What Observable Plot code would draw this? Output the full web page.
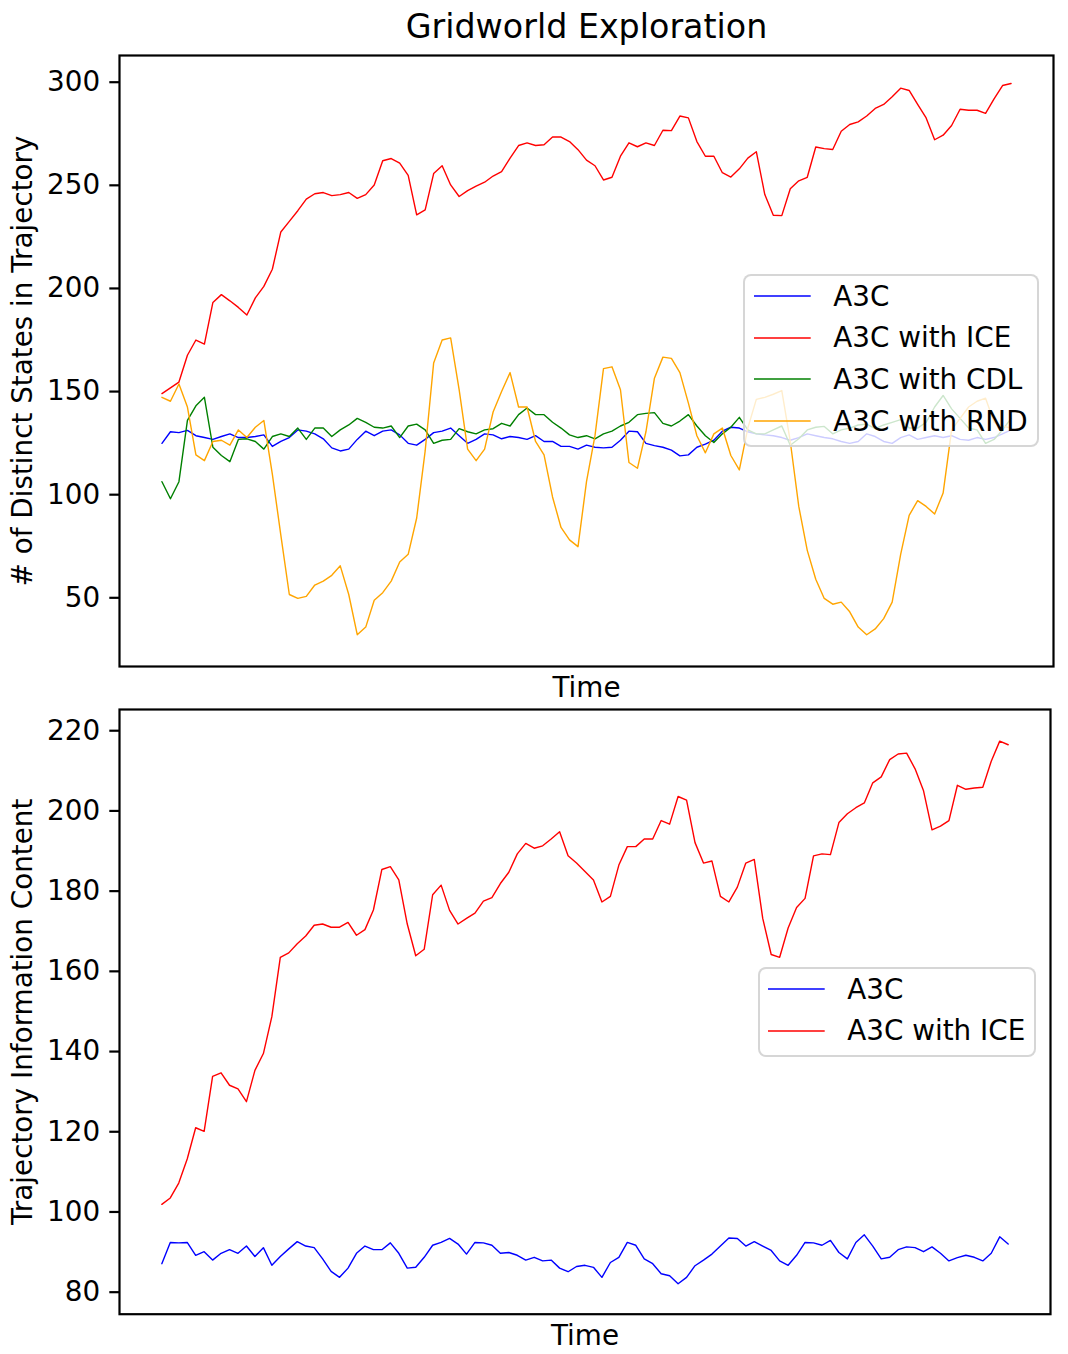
<!DOCTYPE html>
<html><head><meta charset="utf-8">
<script src="https://cdn.jsdelivr.net/npm/d3@7"></script>
<script src="https://cdn.jsdelivr.net/npm/@observablehq/plot@0.6"></script>
<style>
html,body{margin:0;padding:0;background:#fff;}
#wrap{position:relative;width:1068px;height:1354px;font-family:"DejaVu Sans",sans-serif;color:#000;overflow:hidden;background:#fff;}
#wrap svg.panel{position:absolute;left:0;}
.legend{position:absolute;box-sizing:border-box;border:2.8px solid rgba(204,204,204,0.8);border-radius:8px;background:rgba(255,255,255,0.8);}
.lg-line{position:absolute;overflow:visible;}
.lg-text{position:absolute;font-size:27.8px;line-height:27.8px;white-space:nowrap;font-family:"DejaVu Sans",sans-serif;}
</style></head><body><div id="wrap"></div><script>
// ---- data (time steps of 10, 0..1000) ----
const timeStep = 10;
const chartTitle = "Gridworld Exploration";
const xLabel = "Time";
const topYLabel = "# of Distinct States in Trajectory";
const bottomYLabel = "Trajectory Information Content";
const topTicks = [50, 100, 150, 200, 250, 300];
const bottomTicks = [80, 100, 120, 140, 160, 180, 200, 220];
const topSeries = ["A3C", "A3C with ICE", "A3C with CDL", "A3C with RND"];
const bottomSeries = ["A3C", "A3C with ICE"];
const seriesColors = {"A3C": "#0000ff", "A3C with ICE": "#ff0000", "A3C with CDL": "#008000", "A3C with RND": "#ffa500"};

const topA3C = [124.9,130.5,130.1,131.2,128.6,127.7,126.8,128.2,129.5,127.7,127.7,128.2,129,123.4,125.8,127.7,131.4,130.8,129.5,127.1,122.7,121.2,122.1,126.8,130.8,128.6,130.8,131.4,129,124.9,124,126.8,130.1,130.8,132.3,
128.6,124.9,126.8,129.5,129,127.1,128.2,127.7,126.8,128.6,125.8,125.8,123.4,123.4,122.1,124,123,122.7,123,126.4,130.8,130.5,124.9,123.8,123,121.6,118.8,119.3,123,124.5,126.4,130.8,132.7,132.3,
130.5,129.5,129,128.6,127.7,126.4,127.7,129.5,128.6,127.7,127.1,125.8,124.9,125.8,129.5,128.2,125.8,124.9,127.7,129,126.8,127.7,128.6,127.7,128.6,126.8,126.4,127.7,126.8,127.7,129.5,131.4];
const topICE = [149,151.8,154.6,167.6,175,173,193.2,197,194,190.8,187.1,195.4,201,209.3,227.4,232.5,237.7,243.3,245.9,246.5,245,245.5,246.5,243.7,245.5,250.2,261.9,263,260.8,254.8,235.7,238.1,255.7,259.5,250.2,
244.6,247.4,249.6,251.5,254.5,256.7,263.2,269.3,270.6,269.3,269.7,273.4,273.4,271.2,267.3,262.2,259.5,252.6,253.9,264.1,270.6,268.7,270.6,269.3,276.7,276.5,283.6,282.7,271.2,264.1,264.1,256.1,254,258,
263.2,266.3,245.5,235.5,235.3,248.3,252.2,253.9,268.6,267.8,267.4,276.2,279.5,280.8,283.6,287.3,289.2,292.9,297.1,296,289.2,282.7,272.1,274.3,279,286.9,286.4,286.4,284.9,291.9,298.4,299.4];
const topCDL = [106.3,98,106.3,136,143.1,147.2,123,119,116,126.8,127.1,125.8,122.1,128.2,129.5,128.2,132.3,126.8,132.3,132.3,128.2,131.4,133.8,137,135.1,132.7,132.3,133.3,127.7,133.3,134.2,131.4,124.9,126.4,126.8,
132,130.5,129.5,131.4,132,134.6,133.3,138.8,142,138.8,138.8,135.1,132.3,129,127.7,128.6,127.1,129.5,130.8,133.3,135.1,138.8,139.4,139.8,134.6,133.3,135.7,138.8,133.3,128.6,125.3,129.5,132.7,137.5,
131.4,129.5,129.5,131.4,133.3,124,127.1,131.4,132.7,133.1,129.5,131.4,132.3,133.8,134.2,132,133.8,135.1,136.4,132.3,132.3,135.1,142.5,148.1,141.6,137,132.3,131.4,124.9,126.8,131.4,137];
const topRND = [147.2,145.3,153.7,142.5,119.3,116.5,125.8,126.4,124,131.4,127.7,132.7,136,110,80.4,51.6,49.7,50.7,56.2,58.1,60.9,65.5,51.6,32.1,35.8,48.8,52.5,58.1,67.4,71.1,88.7,121.2,163.9,175,176,
150.9,122.1,116.5,122.1,140.1,150,159.2,142.5,142.5,125.8,119.3,98.9,84.1,78.1,74.8,106.3,128.6,161.1,162,150.9,115.6,112.8,130.5,156.5,166.7,166.1,159.2,144.4,128.6,120.3,129.5,132.3,119,112,
132.3,146.2,147.2,148.7,150.5,125.8,94.3,73,59,49.7,46.9,47.9,43.2,35.8,32.1,34.9,39.9,47.9,71.1,90,97.1,94.3,90.6,100.8,131.4,137,142.5,145.3,146.8,135.1,133.3,132.3];

const bottomA3C = [87.1,92.4,92.3,92.4,89.2,90.1,88,89.7,90.6,89.7,91.5,88.9,91.1,86.7,88.9,90.8,92.6,91.5,91.1,88.3,85.2,83.7,86,89.7,91.5,90.6,90.6,92.3,89.7,86,86.2,88.7,91.7,92.4,93.4,
92,89.5,92.4,92.3,91.7,89.7,89.9,89.2,88,88.7,87.8,88,86,85.1,86.4,86.7,86.2,83.7,87.4,88.7,92.4,91.7,88.3,87.1,84.6,84.1,82.1,83.7,86.6,88,89.5,91.5,93.5,93.4,
91.5,92.6,91.5,90.4,87.8,86.7,89.2,92.4,92.3,91.7,92.9,89.9,88.3,92.4,94.3,91.5,88.3,88.7,90.6,91.3,91.1,90.1,91.3,89.7,87.8,88.6,89.2,88.7,87.8,89.7,93.8,92];
const bottomICE = [101.9,103.5,107.2,113.2,121,120.1,133.8,134.7,131.6,130.7,127.5,135.3,139.5,148.7,163.5,164.6,166.9,168.8,171.5,171.8,171,171,172.2,169,170.4,175.3,185.4,186.1,182.8,171.8,163.9,165.5,179.1,181.5,175.2,
171.8,173.2,174.5,177.5,178.4,181.9,184.7,189.3,191.9,190.7,191.3,193,194.8,188.8,187,184.9,182.8,177.3,178.7,186.5,191.1,191.1,193,193,197.6,196.7,203.6,202.7,192.1,187,187.5,178.7,177.3,181,
187,187.9,173.2,164.2,163.5,170.8,175.9,178.2,188.8,189.3,189.1,197.1,199.3,200.8,202,207,208.5,212.8,214.2,214.4,210.5,205,195.3,196.2,197.6,206.4,205.4,205.7,205.9,212.4,217.4,216.5];

const topData = {"A3C": topA3C, "A3C with ICE": topICE, "A3C with CDL": topCDL, "A3C with RND": topRND};
const bottomData = {"A3C": bottomA3C, "A3C with ICE": bottomICE};

// ---- layout ----
const W = 1068;
const fontFamily = "DejaVu Sans";
const baseFont = 27.8;
const lineWidth = 1.4;

function panel({data, names, ticks, yDomain, yLabel, height, margins, withTitle}) {
  const marks = [];
  for (const name of names) {
    marks.push(Plot.line(data[name], {x: (d, i) => i * timeStep, y: d => d, stroke: seriesColors[name], strokeWidth: lineWidth}));
  }
  marks.push(Plot.frame({stroke: "black", strokeWidth: 2.2}));
  marks.push(Plot.axisY({ticks, tickSize: 9.7, tickPadding: 9.7, strokeWidth: 2.2, fontSize: baseFont, label: null, tickFormat: d => String(d)}));
  marks.push(Plot.text([xLabel], {text: d => d, frameAnchor: "bottom", dy: 30.7, lineAnchor: "bottom", textAnchor: "middle", fontSize: baseFont}));
  marks.push(Plot.text([yLabel], {text: d => d, frameAnchor: "left", dx: -87.5, rotate: -90, lineAnchor: "bottom", textAnchor: "middle", fontSize: baseFont}));
  if (withTitle) marks.push(Plot.text([chartTitle], {text: d => d, frameAnchor: "top", dy: -17.8, lineAnchor: "bottom", textAnchor: "middle", fontSize: 33.3}));
  const svg = Plot.plot({
    width: W, height,
    marginLeft: margins[0], marginRight: margins[1], marginTop: margins[2], marginBottom: margins[3],
    x: {domain: [-50, 1050], axis: null},
    y: {domain: yDomain},
    style: {fontFamily, fontSize: baseFont + "px", color: "black", background: "transparent", overflow: "visible"},
    marks
  });
  svg.classList.add("panel");
  return svg;
}

const wrap = document.getElementById("wrap");
const topSvg = panel({data: topData, names: topSeries, ticks: topTicks, yDomain: [16.69, 312.95], yLabel: topYLabel, height: 700, margins: [119, 15, 55, 34], withTitle: true});
topSvg.style.top = "0px";
wrap.appendChild(topSvg);
const bottomSvg = panel({data: bottomData, names: bottomSeries, ticks: bottomTicks, yDomain: [74.51, 225.29], yLabel: bottomYLabel, height: 654, margins: [119, 18, 9, 40.3], withTitle: false});
bottomSvg.style.top = "700px";
wrap.appendChild(bottomSvg);

const SVGNS = "http://www.w3.org/2000/svg";
function legend(names, box, handleLeft, textLeft, firstY) {
  const b = document.createElement("div");
  b.className = "legend";
  Object.assign(b.style, {left: box[0] + "px", top: box[1] + "px", width: box[2] + "px", height: box[3] + "px"});
  wrap.appendChild(b);
  names.forEach((name, i) => {
    const cy = firstY + 41.7 * i;
    const s = document.createElementNS(SVGNS, "svg");
    s.setAttribute("class", "lg-line");
    s.setAttribute("width", "57");
    s.setAttribute("height", "6");
    Object.assign(s.style, {left: handleLeft + "px", top: (cy - 3) + "px"});
    const ln = document.createElementNS(SVGNS, "line");
    ln.setAttribute("x1", "0"); ln.setAttribute("x2", "56.7");
    ln.setAttribute("y1", "3"); ln.setAttribute("y2", "3");
    ln.setAttribute("stroke", seriesColors[name]);
    ln.setAttribute("stroke-width", String(lineWidth));
    s.appendChild(ln);
    wrap.appendChild(s);
    const t = document.createElement("div");
    t.className = "lg-text";
    t.textContent = name;
    Object.assign(t.style, {left: textLeft + "px", top: (cy - 13.4) + "px"});
    wrap.appendChild(t);
  });
}
legend(topSeries, [743.3, 273.5, 296, 173.8], 754.3, 833.3, 296);
legend(bottomSeries, [757.7, 966.8, 278.5, 89.9], 768.3, 847.3, 988.9);
</script></body></html>
